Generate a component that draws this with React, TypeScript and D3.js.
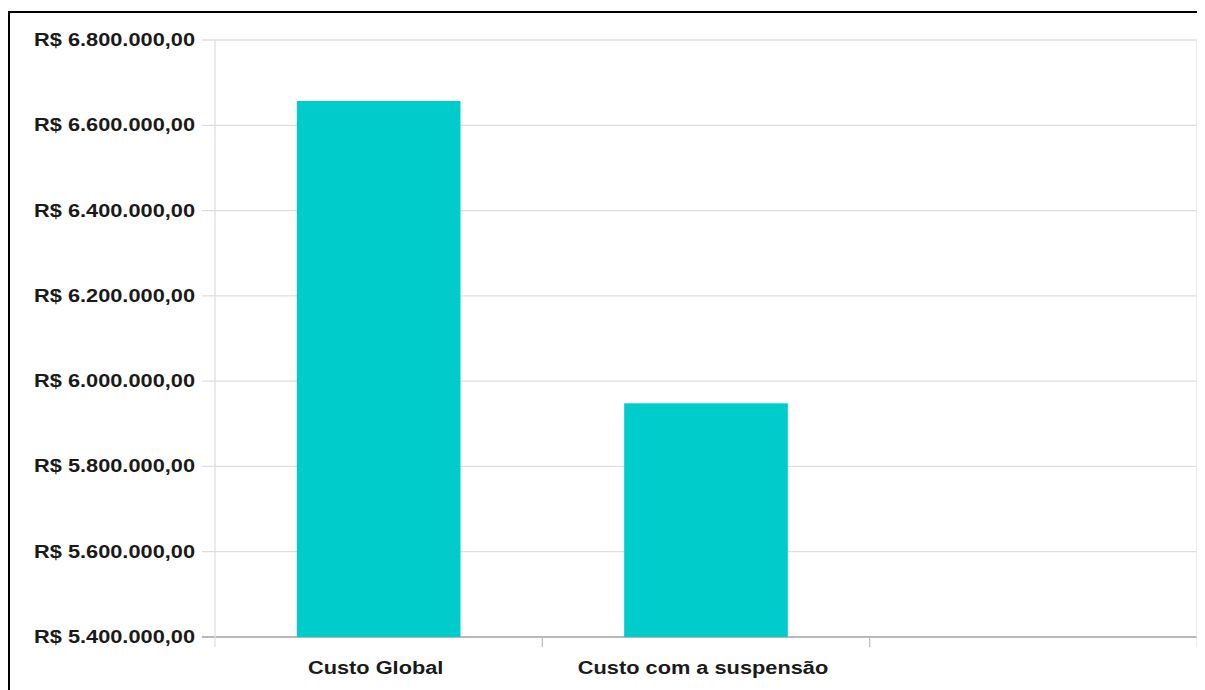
import React from "react";
import * as d3 from "d3";

const categories = ["Custo Global", "Custo com a suspensão", ""];
const values: (number | null)[] = [6657000, 5948000, null];
const yTicks = [5400000, 5600000, 5800000, 6000000, 6200000, 6400000, 6600000, 6800000];

const W = 1197;
const H = 682;
const M = { left: 207, right: 8, top: 32, bottom: 53 };

const locale = d3.formatLocale({
  decimal: ",",
  thousands: ".",
  grouping: [3],
  currency: ["R$ ", ""],
});
const fmt = locale.format("$,.2f");

export default function App() {
  const x = d3
    .scaleBand<string>()
    .domain(categories.map((c, i) => String(i)))
    .range([M.left, W - M.right])
    .paddingInner(0.5)
    .paddingOuter(0.25);
  const y = d3
    .scaleLinear()
    .domain([5400000, 6800000])
    .range([H - M.bottom, M.top]);
  const step = x.step();
  const x0 = M.left;
  const boundaries = categories.map((_, i) => x0 + step * (i + 1));
  const font = "'Liberation Sans', Arial, sans-serif";
  const sx = 1.21;

  return (
    <svg width={W} height={H} style={{ display: "block", overflow: "hidden" }}>
      <rect x={0} y={0} width={W} height={H} fill="#fff" />
      {/* border */}
      <rect x={1} y={4} width={W + 20} height={H + 20} fill="none" stroke="#000" strokeWidth={2} />
      {/* gridlines */}
      {yTicks.map((t) => (
        <line
          key={t}
          x1={M.left - 13}
          x2={W - M.right}
          y1={y(t)}
          y2={y(t)}
          stroke={t === 5400000 ? "#b8b8b8" : t === 6800000 ? "#cfcfcf" : "#dedede"}
          strokeWidth={t === 5400000 ? 2 : 1.2}
        />
      ))}
      {/* left and right vertical axis lines */}
      <line x1={M.left} x2={M.left} y1={M.top} y2={H - M.bottom + 10} stroke="#dedede" strokeWidth={1.2} />
      {boundaries.map((b, i) => (
        <line
          key={i}
          x1={b}
          x2={b}
          y1={i === boundaries.length - 1 ? M.top : H - M.bottom}
          y2={H - M.bottom + 10}
          stroke={i === boundaries.length - 1 ? "#e2e2e2" : "#bdbdbd"}
          strokeWidth={1.2}
        />
      ))}
      {/* bars */}
      {values.map((v, i) =>
        v == null ? null : (
          <rect
            key={i}
            x={x(String(i))}
            y={y(v)}
            width={x.bandwidth()}
            height={y(5400000) - y(v)}
            fill="#00CCCC"
          />
        )
      )}
      {/* y labels */}
      {yTicks.map((t) => (
        <text
          key={t}
          transform={`translate(${M.left - 20},${y(t) + 6}) scale(${sx},1)`}
          textAnchor="end"
          fontFamily={font}
          fontWeight="bold"
          fontSize={18}
          fill="#1a1a1a"
        >
          {fmt(t)}
        </text>
      ))}
      {/* x labels */}
      {categories.map((c, i) =>
        c ? (
          <text
            key={i}
            transform={`translate(${(x(String(i)) as number) + x.bandwidth() / 2 - 3},${H - 16}) scale(${sx},1)`}
            textAnchor="middle"
            fontFamily={font}
            fontWeight="bold"
            fontSize={18}
            fill="#1a1a1a"
          >
            {c}
          </text>
        ) : null
      )}
    </svg>
  );
}
